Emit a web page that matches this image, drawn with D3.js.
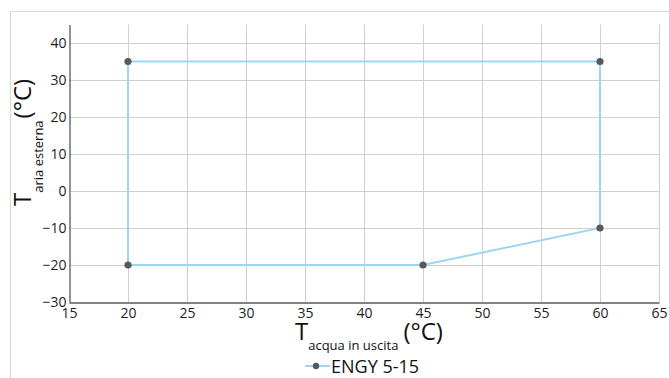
<!DOCTYPE html>
<html>
<head>
<meta charset="utf-8">
<script src="https://cdn.jsdelivr.net/npm/d3@7"></script>
<style>
  html, body { margin: 0; padding: 0; background: #fff; }
  svg { display: block; font-family: "Open Sans", sans-serif; }
</style>
</head>
<body>
<svg id="chart" width="669" height="378"></svg>
<script>
// Operating envelope: outlet water temperature vs outdoor air temperature
const seriesName = "ENGY 5-15";
const waterTemp = [20, 60, 60, 45, 20, 20];   // °C, T acqua in uscita
const airTemp   = [35, 35, -10, -20, -20, 35]; // °C, T aria esterna
const xTicks = [15, 20, 25, 30, 35, 40, 45, 50, 55, 60, 65];
const yTicks = [-30, -20, -10, 0, 10, 20, 30, 40];

const svg = d3.select("#chart");
const W = 669, H = 378;
const margin = { left: 69, right: 10, top: 24.5, bottom: 76 };

const x = d3.scaleLinear().domain([15, 65]).range([margin.left, W - margin.right]);
const y = d3.scaleLinear().domain([-30, 45]).range([H - margin.bottom, margin.top]);

// outer frame
svg.append("rect")
  .attr("x", 10.5).attr("y", 11.5)
  .attr("width", W + 10).attr("height", H + 10)
  .attr("fill", "none").attr("stroke", "#d9d9d9").attr("stroke-width", 1);

// grid
const grid = svg.append("g").attr("class", "grid");
grid.selectAll("line.v").data(xTicks.slice(1)).join("line")
  .attr("class", "v")
  .attr("x1", d => Math.round(x(d)) + 0.5).attr("x2", d => Math.round(x(d)) + 0.5)
  .attr("y1", y(45)).attr("y2", y(-30))
  .attr("stroke", "#d0d0d0").attr("stroke-width", 1);
grid.selectAll("line.h").data(yTicks.slice(1)).join("line")
  .attr("class", "h")
  .attr("x1", x(15)).attr("x2", x(65))
  .attr("y1", d => Math.round(y(d)) + 0.5).attr("y2", d => Math.round(y(d)) + 0.5)
  .attr("stroke", "#d0d0d0").attr("stroke-width", 1);

// axes
const xAxis = d3.axisBottom(x).tickValues(xTicks).tickSize(0).tickPadding(5);
const yAxis = d3.axisLeft(y).tickValues(yTicks).tickSize(0).tickPadding(3);

const gx = svg.append("g")
  .attr("transform", `translate(0,${Math.round(y(-30)) + 0.5})`)
  .call(xAxis);
const gy = svg.append("g")
  .attr("transform", `translate(${Math.round(x(15)) + 0.5},0)`)
  .call(yAxis);

[gx, gy].forEach(g => {
  g.select(".domain").attr("stroke", "#595959").attr("stroke-width", 1.3);
  g.selectAll("text")
    .attr("font-family", "'Open Sans', sans-serif")
    .attr("font-size", 14).attr("fill", "#1e1e1e");
});
gx.selectAll("text").attr("dy", "0.72em");
gy.selectAll("text").attr("dy", "0.3em");

// envelope line
const line = d3.line().x((d, i) => x(waterTemp[i])).y((d, i) => y(airTemp[i]));
svg.append("path")
  .datum(waterTemp)
  .attr("d", line)
  .attr("fill", "none")
  .attr("stroke", "#9dd5f3")
  .attr("stroke-width", 2);

// markers
svg.selectAll("circle.pt").data(waterTemp.slice(0, 5)).join("circle")
  .attr("class", "pt")
  .attr("cx", (d, i) => x(waterTemp[i]))
  .attr("cy", (d, i) => y(airTemp[i]))
  .attr("r", 3.6)
  .attr("fill", "#595959");

// x axis title
const xt = svg.append("text")
  .attr("x", 295).attr("y", 340)
  .attr("fill", "#111")
  .attr("font-size", 24);
xt.append("tspan").text("T");
xt.append("tspan").attr("font-size", 13).attr("dy", 10).text("acqua in uscita");
xt.append("tspan").attr("dy", -10).attr("dx", 5).text("(°C)");

// y axis title
const yt = svg.append("text")
  .attr("transform", "translate(31,206) rotate(-90)")
  .attr("fill", "#111")
  .attr("font-size", 24);
yt.append("tspan").text("T");
yt.append("tspan").attr("font-size", 13).attr("dy", 12).text("aria esterna");
yt.append("tspan").attr("dy", -12).attr("dx", 2).text("(°C)");

// legend
const lg = svg.append("g");
lg.append("line")
  .attr("x1", 305).attr("x2", 330).attr("y1", 366).attr("y2", 366)
  .attr("stroke", "#9dd5f3").attr("stroke-width", 2);
lg.append("circle").attr("cx", 316).attr("cy", 366).attr("r", 3.2).attr("fill", "#595959");
lg.append("text")
  .attr("x", 331).attr("y", 372.5)
  .attr("font-size", 18).attr("fill", "#111")
  .text(seriesName);
</script>
</body>
</html>
